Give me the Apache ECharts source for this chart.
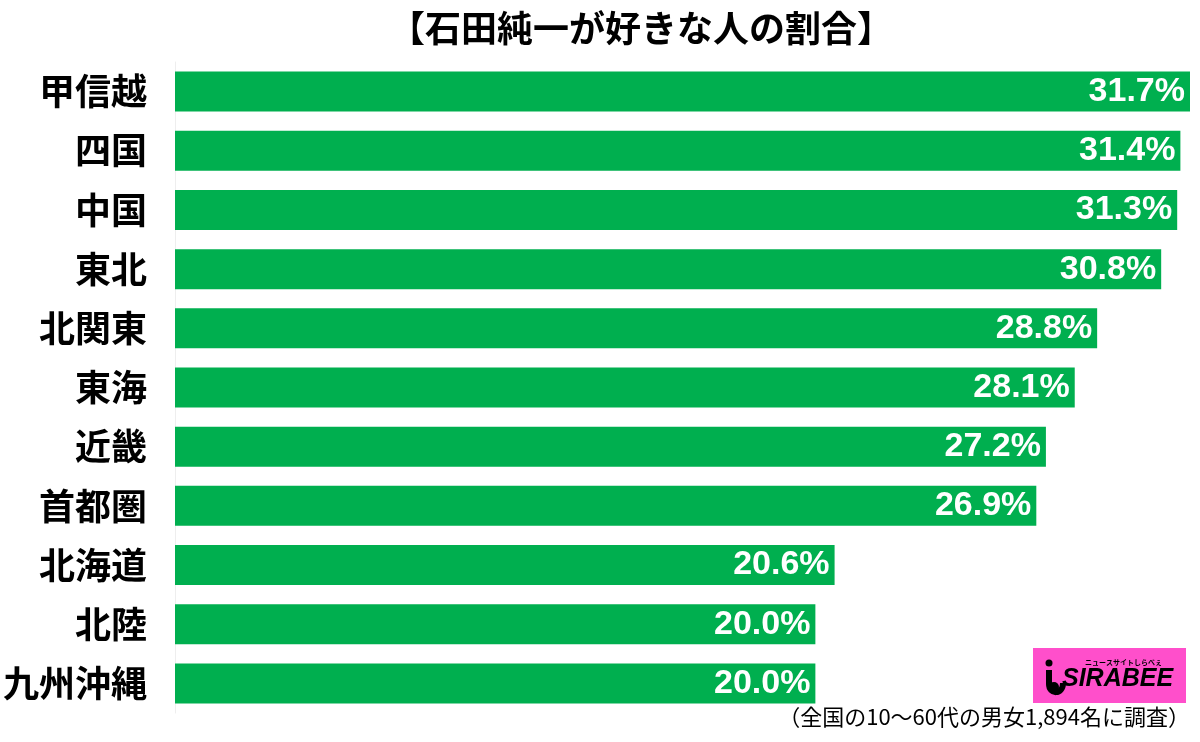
<!DOCTYPE html>
<html>
<head>
<meta charset="utf-8">
<script src="https://cdn.jsdelivr.net/npm/echarts@6/dist/echarts.min.js"></script>
<style>
  html, body { margin: 0; padding: 0; background: #fff; }
  #chart { width: 1200px; height: 742px; }
</style>
</head>
<body>
<div id="chart"></div>
<script>
const regions = ['甲信越', '四国', '中国', '東北', '北関東', '東海', '近畿', '首都圏', '北海道', '北陸', '九州沖縄']
const shares = [31.7, 31.4, 31.3, 30.8, 28.8, 28.1, 27.2, 26.9, 20.6, 20.0, 20.0]

const chart = echarts.init(document.getElementById('chart'))

const option = {
  backgroundColor: '#fff',
  animation: false,
  title: {
    text: '【石田純一が好きな人の割合】',
    left: 384,
    top: 5,
    textStyle: {
      fontFamily: 'Noto Sans CJK JP',
      fontSize: 36,
      fontWeight: 'bold',
      color: '#000',
    },
  },
  grid: {
    left: 175,
    right: 10,
    top: 62,
    bottom: 29,
  },
  xAxis: {
    type: 'value',
    min: 0,
    max: 31.7,
    show: false,
  },
  yAxis: {
    type: 'category',
    data: regions,
    inverse: true,
    axisLine: { show: true, lineStyle: { color: '#eeeeee', width: 1 } },
    axisTick: { show: false },
    axisLabel: {
      margin: 28,
      color: '#000',
      fontFamily: 'Noto Sans CJK JP',
      fontSize: 36,
      fontWeight: 'bold',
    },
  },
  series: [
    {
      type: 'bar',
      data: shares,
      barWidth: 40,
      itemStyle: { color: '#00AF4F' },
      label: {
        show: true,
        position: 'insideRight',
        distance: 5,
        color: '#fff',
        fontFamily: '"Liberation Sans", Arial, sans-serif',
        fontSize: 34,
        fontWeight: 'bold',
        formatter: ({ value }) => value.toFixed(1) + '%',
      },
    },
  ],
  graphic: [
    {
      type: 'text',
      right: 10,
      top: 706,
      style: {
        text: '（全国の10～60代の男女1,894名に調査）',
        font: '22px "Noto Sans CJK JP"',
        fill: '#000',
      },
    },
    {
      type: 'group',
      left: 1033,
      top: 648,
      children: [
        { type: 'rect', shape: { x: 0, y: 0, width: 153, height: 55 }, style: { fill: '#FF4FCB' } },
        // "i" mark with a hook
        { type: 'circle', shape: { cx: 16, cy: 15, r: 3.5 }, style: { fill: '#000' } },
        {
          type: 'line',
          shape: { x1: 16, y1: 22, x2: 16, y2: 36 },
          style: { stroke: '#000', lineWidth: 6 },
        },
        {
          type: 'bezierCurve',
          shape: { x1: 16, y1: 36, cpx1: 16, cpy1: 47, cpx2: 30, cpy2: 47, x2: 30, y2: 35 },
          style: { fill: 'none', stroke: '#000', lineWidth: 6 },
        },
        { type: 'circle', shape: { cx: 21, cy: 39, r: 5 }, style: { fill: '#000' } },
        {
          type: 'text',
          x: 29, y: 19,
          style: { text: 'SIRABEE', font: 'italic bold 25px "Liberation Sans"', fill: '#000' },
        },
        {
          type: 'text',
          x: 52, y: 11,
          style: { text: 'ニュースサイトしらべぇ', font: 'bold 7px "Noto Sans CJK JP"', fill: '#000' },
        },
      ],
    },
  ],
}

chart.setOption(option)
</script>
</body>
</html>
